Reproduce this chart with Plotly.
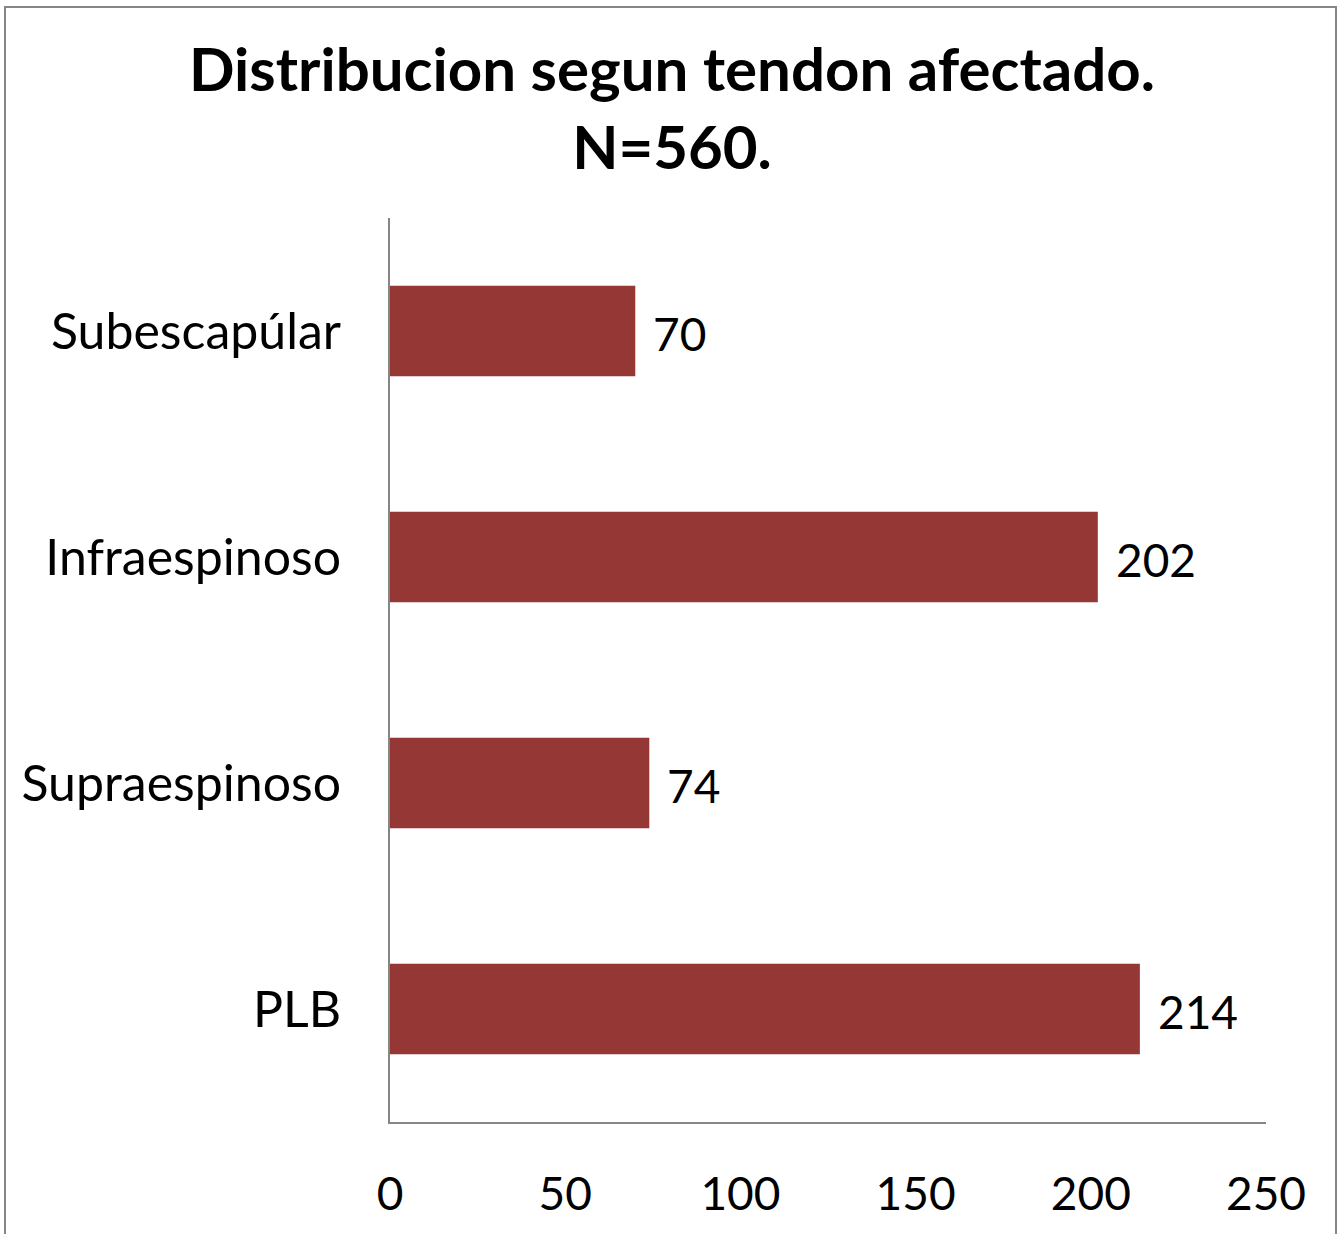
import plotly.graph_objects as go

categories = ["PLB", "Supraespinoso", "Infraespinoso", "Subescapúlar"]
values = [214, 74, 202, 70]
x_ticks = [0, 50, 100, 150, 200, 250]

W, H = 1344, 1234
L, R, T, B = 390, 1266, 218, 1122
pw, ph = R - L, B - T

FONT = "Lato"

fig = go.Figure()
fig.add_trace(go.Bar(
    x=values, y=categories, orientation="h",
    marker=dict(color="#953735", line=dict(width=0)),
    width=0.4,
))

for c, v in zip(categories, values):
    fig.add_annotation(x=v, y=c, text=str(v), showarrow=False,
                       xanchor="left", yanchor="middle", xshift=16, yshift=-2,
                       font=dict(family=FONT, size=46, color="#000000"))

# outer chart border
fig.add_shape(type="rect", xref="paper", yref="paper",
              x0=(5 - L) / pw, x1=(1336 - L) / pw,
              y0=(B - 1260) / ph, y1=(B - 7) / ph,
              line=dict(color="#868686", width=2), fillcolor="rgba(0,0,0,0)", layer="below")

fig.update_layout(
    width=W, height=H,
    margin=dict(l=L, r=W - R, t=T, b=H - B, pad=0, autoexpand=False),
    paper_bgcolor="white", plot_bgcolor="white",
    showlegend=False,
    title=dict(text="<b>Distribucion segun tendon afectado.<br>N=560.</b>",
               x=672 / W, xanchor="center", y=1 - 91 / H, yanchor="middle",
               font=dict(family=FONT, size=60, color="#000000")),
    xaxis=dict(range=[0, 250], tickvals=x_ticks, ticktext=[str(t) for t in x_ticks],
               showgrid=False, zeroline=False, showline=True, linecolor="#868686", linewidth=2,
               ticks="", ticklabelstandoff=31, automargin=False,
               tickfont=dict(family=FONT, size=46, color="#000000")),
    yaxis=dict(showgrid=False, zeroline=False, showline=True, linecolor="#868686", linewidth=2,
               ticks="", ticklabelstandoff=37, automargin=False,
               categoryorder="array", categoryarray=categories,
               tickfont=dict(family=FONT, size=50, color="#000000")),
)

fig.write_html("out.html", config={"displayModeBar": False},
               post_script="document.body.style.margin='0';")
